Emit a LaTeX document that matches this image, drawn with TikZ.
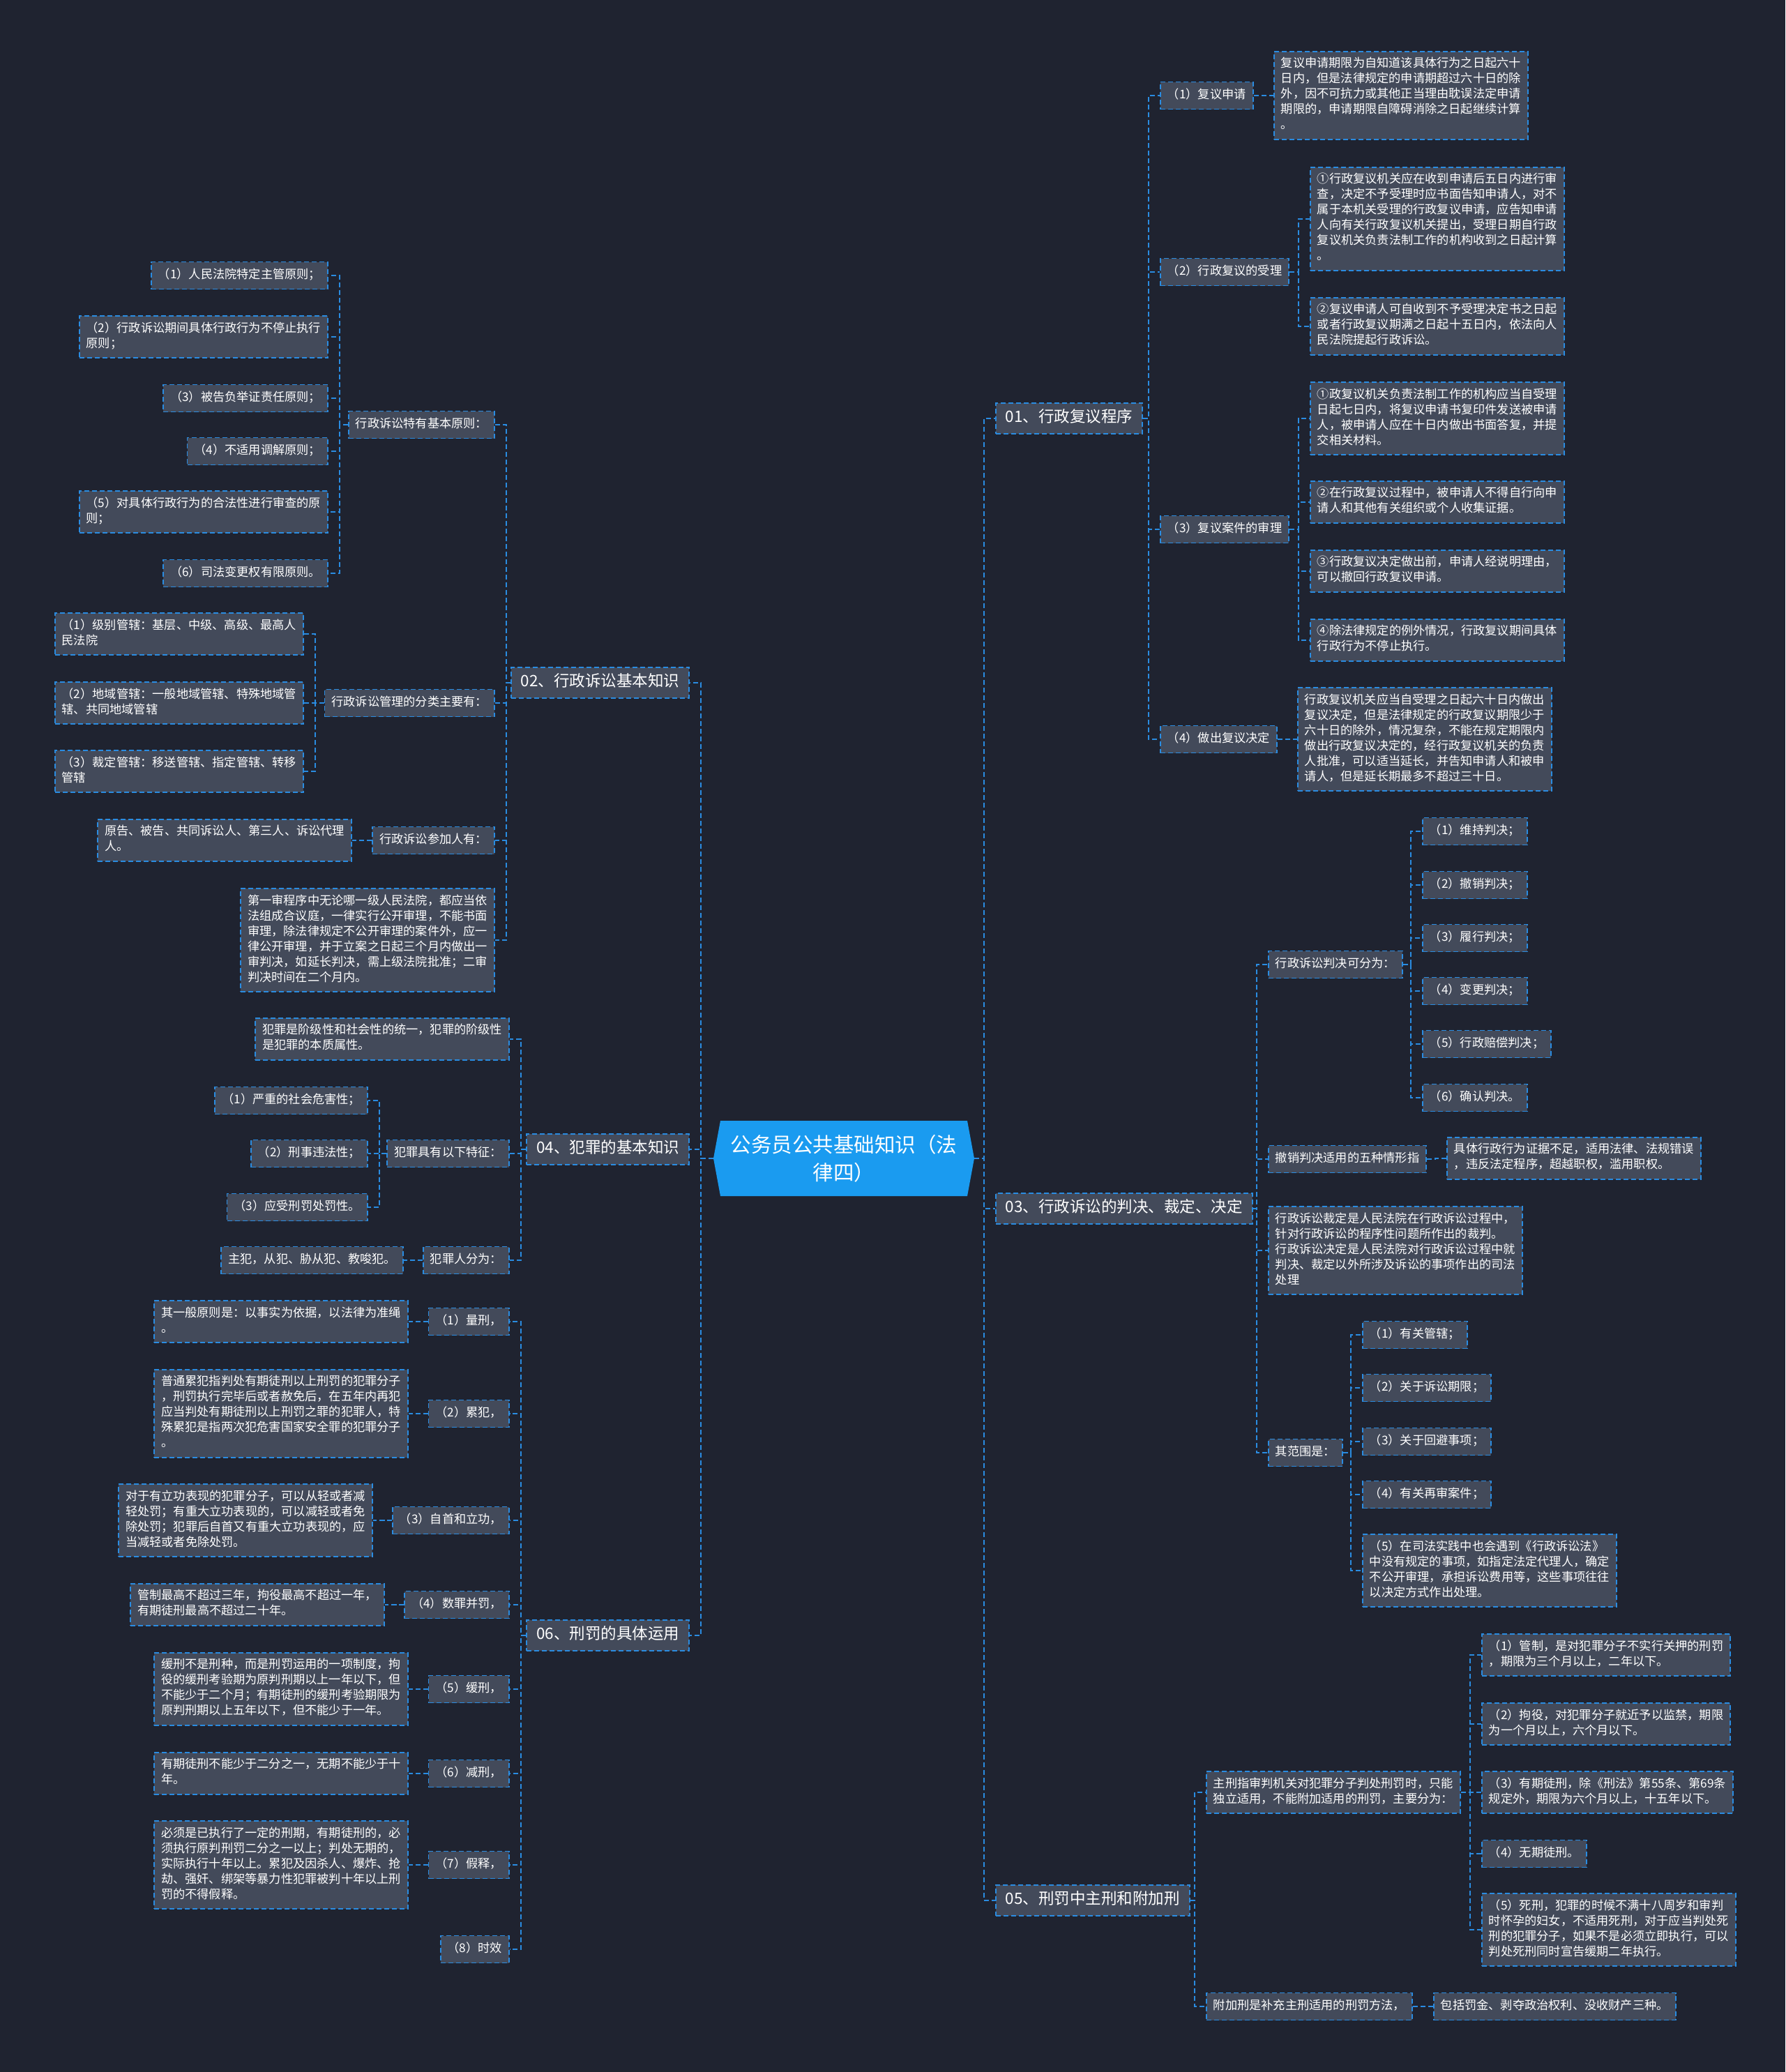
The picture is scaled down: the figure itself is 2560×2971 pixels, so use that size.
\documentclass[tikz,border=0pt]{standalone}
\usepackage{fontspec}
\setmainfont{Noto Sans CJK SC}
\usetikzlibrary{calc}
\definecolor{bgc}{RGB}{31,35,48}
\definecolor{boxc}{RGB}{67,74,90}
\definecolor{linec}{RGB}{42,140,225}
\definecolor{rootc}{RGB}{26,155,240}
\newcommand\subfnt{\fontsize{17.2}{22}\selectfont}
\newcommand\brfnt{\fontsize{22.5}{28}\selectfont}
\newcommand\rootfnt{\fontsize{29.5}{40}\selectfont}
\newcommand\cR[2]{\draw[conn] (#1.east) -- ($(#1.east -| #2.west)+(-16,0)$) |- (#2.west);}
\newcommand\cL[2]{\draw[conn] (#1.west) -- ($(#1.west -| #2.east)+(16,0)$) |- (#2.east);}
\tikzset{
  box/.style={draw=linec, dash pattern=on 7pt off 4pt, line width=1.8pt, fill=boxc, text=white,
    font=\subfnt, align=left, inner xsep=10pt, inner ysep=8.5pt,
    execute at begin node=\strut, execute at end node=\strut},
  mainbox/.style={box, font=\brfnt, inner xsep=14pt, inner ysep=8pt},
  conn/.style={draw=linec, dash pattern=on 7pt off 4pt, line width=1.8pt},
}
\begin{document}
\begin{tikzpicture}[x=1pt,y=-1pt]
\useasboundingbox (0,0) rectangle (2560,2971);
\fill[bgc] (0,0) rectangle (2560,2971);

% root
\fill[rootc] (1033,1607) -- (1387,1607) -- (1397,1661) -- (1387,1715) -- (1033,1715) -- (1023,1661) -- cycle;
\node[text=white, font=\rootfnt, align=center, minimum width=374pt, minimum height=108pt, inner sep=0pt] (root) at (1210,1661) {公务员公共基础知识（法\\律四）};

% ===== right side =====
\node[mainbox,anchor=west] (m01) at (1427,600) {01、行政复议程序};
\node[mainbox,anchor=west] (m03) at (1427,1733) {03、行政诉讼的判决、裁定、决定};
\node[mainbox,anchor=west] (m05) at (1427,2725) {05、刑罚中主刑和附加刑};

% 01
\node[box,anchor=west] (a1) at (1663,137) {（1）复议申请};
\node[box,anchor=west] (a1d) at (1826,137) {复议申请期限为自知道该具体行为之日起六十\\日内，但是法律规定的申请期超过六十日的除\\外，因不可抗力或其他正当理由耽误法定申请\\期限的，申请期限自障碍消除之日起继续计算\\。};
\node[box,anchor=west] (a2) at (1663,390) {（2）行政复议的受理};
\node[box,anchor=west] (a2a) at (1878,314) {①行政复议机关应在收到申请后五日内进行审\\查，决定不予受理时应书面告知申请人，对不\\属于本机关受理的行政复议申请，应告知申请\\人向有关行政复议机关提出，受理日期自行政\\复议机关负责法制工作的机构收到之日起计算\\。};
\node[box,anchor=west] (a2b) at (1878,468) {②复议申请人可自收到不予受理决定书之日起\\或者行政复议期满之日起十五日内，依法向人\\民法院提起行政诉讼。};
\node[box,anchor=west] (a3) at (1663,759) {（3）复议案件的审理};
\node[box,anchor=west] (a3a) at (1878,600) {①政复议机关负责法制工作的机构应当自受理\\日起七日内，将复议申请书复印件发送被申请\\人，被申请人应在十日内做出书面答复，并提\\交相关材料。};
\node[box,anchor=west] (a3b) at (1878,720) {②在行政复议过程中，被申请人不得自行向申\\请人和其他有关组织或个人收集证据。};
\node[box,anchor=west] (a3c) at (1878,819) {③行政复议决定做出前，申请人经说明理由，\\可以撤回行政复议申请。};
\node[box,anchor=west] (a3d) at (1878,918) {④除法律规定的例外情况，行政复议期间具体\\行政行为不停止执行。};
\node[box,anchor=west] (a4) at (1663,1060) {（4）做出复议决定};
\node[box,anchor=west] (a4d) at (1860,1060) {行政复议机关应当自受理之日起六十日内做出\\复议决定，但是法律规定的行政复议期限少于\\六十日的除外，情况复杂，不能在规定期限内\\做出行政复议决定的，经行政复议机关的负责\\人批准，可以适当延长，并告知申请人和被申\\请人，但是延长期最多不超过三十日。};

% 03
\node[box,anchor=west] (c1) at (1818,1383) {行政诉讼判决可分为：};
\node[box,anchor=west] (c1a) at (2039,1192) {（1）维持判决；};
\node[box,anchor=west] (c1b) at (2039,1269) {（2）撤销判决；};
\node[box,anchor=west] (c1c) at (2039,1345) {（3）履行判决；};
\node[box,anchor=west] (c1d) at (2039,1421) {（4）变更判决；};
\node[box,anchor=west] (c1e) at (2039,1497) {（5）行政赔偿判决；};
\node[box,anchor=west] (c1f) at (2039,1574) {（6）确认判决。};
\node[box,anchor=west] (c2) at (1818,1662) {撤销判决适用的五种情形指};
\node[box,anchor=west] (c2d) at (2074,1661) {具体行政行为证据不足，适用法律、法规错误\\，违反法定程序，超越职权，滥用职权。};
\node[box,anchor=west] (c3) at (1818,1793) {行政诉讼裁定是人民法院在行政诉讼过程中，\\针对行政诉讼的程序性问题所作出的裁判。\\行政诉讼决定是人民法院对行政诉讼过程中就\\判决、裁定以外所涉及诉讼的事项作出的司法\\处理};
\node[box,anchor=west] (c4) at (1818,2083) {其范围是：};
\node[box,anchor=west] (c4a) at (1953,1914) {（1）有关管辖；};
\node[box,anchor=west] (c4b) at (1953,1990) {（2）关于诉讼期限；};
\node[box,anchor=west] (c4c) at (1953,2067) {（3）关于回避事项；};
\node[box,anchor=west] (c4d) at (1953,2143) {（4）有关再审案件；};
\node[box,anchor=west] (c4e) at (1953,2252) {（5）在司法实践中也会遇到《行政诉讼法》\\中没有规定的事项，如指定法定代理人，确定\\不公开审理，承担诉讼费用等，这些事项往往\\以决定方式作出处理。};

% 05
\node[box,anchor=west] (e1) at (1729,2570) {主刑指审判机关对犯罪分子判处刑罚时，只能\\独立适用，不能附加适用的刑罚，主要分为：};
\node[box,anchor=west] (e1a) at (2124,2373) {（1）管制，是对犯罪分子不实行关押的刑罚\\，期限为三个月以上，二年以下。};
\node[box,anchor=west] (e1b) at (2124,2472) {（2）拘役，对犯罪分子就近予以监禁，期限\\为一个月以上，六个月以下。};
\node[box,anchor=west] (e1c) at (2124,2570) {（3）有期徒刑，除《刑法》第55条、第69条\\规定外，期限为六个月以上，十五年以下。};
\node[box,anchor=west] (e1d) at (2124,2658) {（4）无期徒刑。};
\node[box,anchor=west] (e1e) at (2124,2767) {（5）死刑，犯罪的时候不满十八周岁和审判\\时怀孕的妇女，不适用死刑，对于应当判处死\\刑的犯罪分子，如果不是必须立即执行，可以\\判处死刑同时宣告缓期二年执行。};
\node[box,anchor=west] (e2) at (1729,2877) {附加刑是补充主刑适用的刑罚方法，};
\node[box,anchor=west] (e2d) at (2055,2877) {包括罚金、剥夺政治权利、没收财产三种。};

% ===== left side =====
\node[mainbox,anchor=east] (m02) at (989,979) {02、行政诉讼基本知识};
\node[mainbox,anchor=east] (m04) at (989,1648) {04、犯罪的基本知识};
\node[mainbox,anchor=east] (m06) at (989,2345) {06、刑罚的具体运用};

% 02
\node[box,anchor=east] (l1) at (710,609) {行政诉讼特有基本原则：};
\node[box,anchor=east] (l1a) at (471,395) {（1）人民法院特定主管原则；};
\node[box,anchor=east] (l1b) at (471,483) {（2）行政诉讼期间具体行政行为不停止执行\\原则；};
\node[box,anchor=east] (l1c) at (471,571) {（3）被告负举证责任原则；};
\node[box,anchor=east] (l1d) at (471,647) {（4）不适用调解原则；};
\node[box,anchor=east] (l1e) at (471,734) {（5）对具体行政行为的合法性进行审查的原\\则；};
\node[box,anchor=east] (l1f) at (471,822) {（6）司法变更权有限原则。};
\node[box,anchor=east] (l2) at (710,1008) {行政诉讼管理的分类主要有：};
\node[box,anchor=east] (l2a) at (436,909) {（1）级别管辖：基层、中级、高级、最高人\\民法院};
\node[box,anchor=east] (l2b) at (436,1008) {（2）地域管辖：一般地域管辖、特殊地域管\\辖、共同地域管辖};
\node[box,anchor=east] (l2c) at (436,1106) {（3）裁定管辖：移送管辖、指定管辖、转移\\管辖};
\node[box,anchor=east] (l3) at (710,1205) {行政诉讼参加人有：};
\node[box,anchor=east] (l3d) at (505,1205) {原告、被告、共同诉讼人、第三人、诉讼代理\\人。};
\node[box,anchor=east] (l4) at (710,1348) {第一审程序中无论哪一级人民法院，都应当依\\法组成合议庭，一律实行公开审理，不能书面\\审理，除法律规定不公开审理的案件外，应一\\律公开审理，并于立案之日起三个月内做出一\\审判决，如延长判决，需上级法院批准；二审\\判决时间在二个月内。};

% 04
\node[box,anchor=east] (k1) at (731,1490) {犯罪是阶级性和社会性的统一，犯罪的阶级性\\是犯罪的本质属性。};
\node[box,anchor=east] (k2) at (731,1654) {犯罪具有以下特征：};
\node[box,anchor=east] (k2a) at (528,1578) {（1）严重的社会危害性；};
\node[box,anchor=east] (k2b) at (528,1654) {（2）刑事违法性；};
\node[box,anchor=east] (k2c) at (528,1731) {（3）应受刑罚处罚性。};
\node[box,anchor=east] (k3) at (731,1807) {犯罪人分为：};
\node[box,anchor=east] (k3d) at (579,1807) {主犯，从犯、胁从犯、教唆犯。};

% 06
\node[box,anchor=east] (g1) at (731,1895) {（1）量刑，};
\node[box,anchor=east] (g1d) at (586,1895) {其一般原则是：以事实为依据，以法律为准绳\\。};
\node[box,anchor=east] (g2) at (731,2027) {（2）累犯，};
\node[box,anchor=east] (g2d) at (586,2027) {普通累犯指判处有期徒刑以上刑罚的犯罪分子\\，刑罚执行完毕后或者赦免后，在五年内再犯\\应当判处有期徒刑以上刑罚之罪的犯罪人，特\\殊累犯是指两次犯危害国家安全罪的犯罪分子\\。};
\node[box,anchor=east] (g3) at (731,2180) {（3）自首和立功，};
\node[box,anchor=east] (g3d) at (535,2180) {对于有立功表现的犯罪分子，可以从轻或者减\\轻处罚；有重大立功表现的，可以减轻或者免\\除处罚；犯罪后自首又有重大立功表现的，应\\当减轻或者免除处罚。};
\node[box,anchor=east] (g4) at (731,2301) {（4）数罪并罚，};
\node[box,anchor=east] (g4d) at (552,2301) {管制最高不超过三年，拘役最高不超过一年，\\有期徒刑最高不超过二十年。};
\node[box,anchor=east] (g5) at (731,2422) {（5）缓刑，};
\node[box,anchor=east] (g5d) at (586,2422) {缓刑不是刑种，而是刑罚运用的一项制度，拘\\役的缓刑考验期为原判刑期以上一年以下，但\\不能少于二个月；有期徒刑的缓刑考验期限为\\原判刑期以上五年以下，但不能少于一年。};
\node[box,anchor=east] (g6) at (731,2543) {（6）减刑，};
\node[box,anchor=east] (g6d) at (586,2543) {有期徒刑不能少于二分之一，无期不能少于十\\年。};
\node[box,anchor=east] (g7) at (731,2674) {（7）假释，};
\node[box,anchor=east] (g7d) at (586,2674) {必须是已执行了一定的刑期，有期徒刑的，必\\须执行原判刑罚二分之一以上；判处无期的，\\实际执行十年以上。累犯及因杀人、爆炸、抢\\劫、强奸、绑架等暴力性犯罪被判十年以上刑\\罚的不得假释。};
\node[box,anchor=east] (g8) at (731,2795) {（8）时效};

% ===== connectors =====
\cR{root}{m01} \cR{root}{m03} \cR{root}{m05}
\cL{root}{m02} \cL{root}{m04} \cL{root}{m06}

\cR{m01}{a1} \cR{m01}{a2} \cR{m01}{a3} \cR{m01}{a4}
\cR{a1}{a1d}
\cR{a2}{a2a} \cR{a2}{a2b}
\cR{a3}{a3a} \cR{a3}{a3b} \cR{a3}{a3c} \cR{a3}{a3d}
\cR{a4}{a4d}

\cR{m03}{c1} \cR{m03}{c2} \cR{m03}{c3} \cR{m03}{c4}
\cR{c1}{c1a} \cR{c1}{c1b} \cR{c1}{c1c} \cR{c1}{c1d} \cR{c1}{c1e} \cR{c1}{c1f}
\cR{c2}{c2d}
\cR{c4}{c4a} \cR{c4}{c4b} \cR{c4}{c4c} \cR{c4}{c4d} \cR{c4}{c4e}

\cR{m05}{e1} \cR{m05}{e2}
\cR{e1}{e1a} \cR{e1}{e1b} \cR{e1}{e1c} \cR{e1}{e1d} \cR{e1}{e1e}
\cR{e2}{e2d}

\cL{m02}{l1} \cL{m02}{l2} \cL{m02}{l3} \cL{m02}{l4}
\cL{l1}{l1a} \cL{l1}{l1b} \cL{l1}{l1c} \cL{l1}{l1d} \cL{l1}{l1e} \cL{l1}{l1f}
\cL{l2}{l2a} \cL{l2}{l2b} \cL{l2}{l2c}
\cL{l3}{l3d}

\cL{m04}{k1} \cL{m04}{k2} \cL{m04}{k3}
\cL{k2}{k2a} \cL{k2}{k2b} \cL{k2}{k2c}
\cL{k3}{k3d}

\cL{m06}{g1} \cL{m06}{g2} \cL{m06}{g3} \cL{m06}{g4} \cL{m06}{g5} \cL{m06}{g6} \cL{m06}{g7} \cL{m06}{g8}
\cL{g1}{g1d} \cL{g2}{g2d} \cL{g3}{g3d} \cL{g4}{g4d} \cL{g5}{g5d} \cL{g6}{g6d} \cL{g7}{g7d}
\end{tikzpicture}
\end{document}
